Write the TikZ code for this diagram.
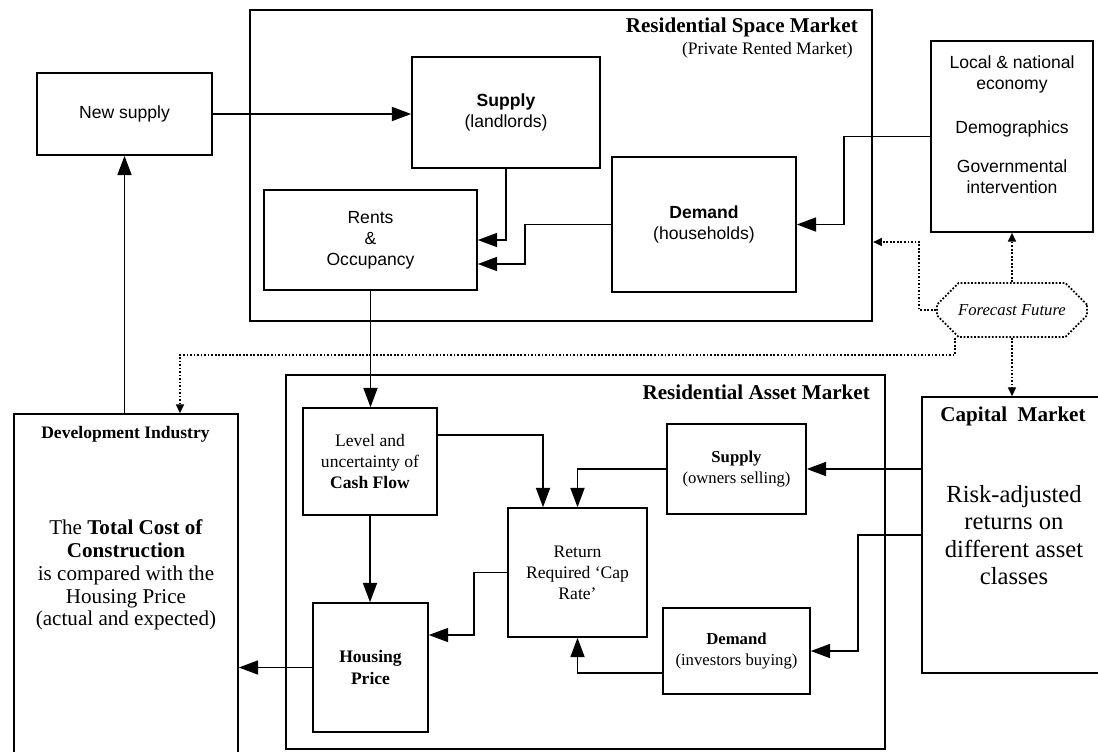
\documentclass[tikz,border=0pt]{standalone}
\usepackage{fontspec}
\setmainfont{Liberation Serif}
\setsansfont{Liberation Sans}
\usetikzlibrary{arrows.meta,shapes.misc,positioning}

\tikzset{
boxsize/.style 2 args={minimum width=#1*0.02cm, minimum height=#2*0.02cm},
box/.style={draw, line width=0.9pt, inner sep=2pt},
sans/.style={font=\sffamily\fontsize{10}{12}\selectfont},
small/.style={font=\rmfamily\fontsize{9.5}{11.5}\selectfont},
market/.style={draw, line width=1.2pt},
title/.style={font=\rmfamily\bfseries\fontsize{12}{14}\selectfont},
chamf/.style={draw, chamfered rectangle, chamfered rectangle xsep=0.34cm,
  chamfered rectangle ysep=0.32cm, densely dotted, line width=1pt, inner sep=0pt,
  font=\rmfamily\itshape\fontsize{9.5}{11}\selectfont},
arr/.style={line width=0.9pt, -{Triangle[length=11pt,width=8pt]}},
fut/.style={densely dotted, line width=1pt, -{Triangle[length=5pt,width=4.5pt]}}
}

\begin{document}
\begin{tikzpicture}[
x=0.02cm, y=-0.02cm,
every node/.style={font=\rmfamily\fontsize{10}{12}\selectfont, align=center}
]
\useasboundingbox (0,0) rectangle (1098,751);

    % Residential space market
    \node[market, boxsize={622}{311}] (spacemkt) at (561,165.5) {};
    \node[title, anchor=east] (spacettl) at (864,27) {Residential Space Market};
    \node[anchor=east] (spacesub) at (859,50) {(Private Rented Market)};

    \node[box, sans, boxsize={175}{82}] (newsup) at (124.5,114) {New supply};
    \node[box, sans, boxsize={188}{111}] (supL) at (506,112.5) {\textbf{Supply}\\(landlords)};
    \node[box, sans, boxsize={213}{100}] (rents) at (370.5,240) {Rents\\\&\\Occupancy};
    \node[box, sans, boxsize={184}{135}] (demH) at (704,224.5) {\textbf{Demand}\\(households)};

    % Outside influences
    \node[box, boxsize={162}{191}] (local) at (1012,136.5) {};
    \node[sans] (localtxt) at (1012,125) {Local \& national\\economy\\[13pt]Demographics\\[10pt]Governmental\\intervention};
    \node[chamf, boxsize={150}{54}] (forecast) at (1012,310) {Forecast Future};

    % Residential asset market
    \node[market, boxsize={599}{374}] (assetmkt) at (585.5,562) {};
    \node[title, anchor=east] (assetttl) at (876,392) {Residential Asset Market};
    \node[box, boxsize={134}{107}] (cash) at (370,461.5) {Level and\\uncertainty of\\\textbf{Cash Flow}};
    \node[box, boxsize={115}{129}] (housing) at (370.5,667.5) {\textbf{Housing}\\\textbf{Price}};
    \node[box, boxsize={139}{129}] (ret) at (577.5,572.5) {Return\\Required `Cap\\Rate'};
    \node[box, small, boxsize={139}{90}] (supO) at (736.5,469) {\textbf{Supply}\\(owners selling)};
    \node[box, small, boxsize={147}{86}] (demI) at (736.5,651) {\textbf{Demand}\\(investors buying)};

    % Capital market
    \node[box, boxsize={184}{276}, font=\rmfamily\fontsize{14}{15.5}\selectfont] (capital) at (1014,535)
    {Risk-adjusted\\returns on\\different asset\\classes};
    \node[title] (capttl) at (1013,416) {Capital\ \ Market};

    % Development industry
    \node[box, boxsize={224}{346}] (dev) at (126,587) {};
    \node[font=\rmfamily\bfseries\fontsize{10}{12}\selectfont] (devttl) at (125.5,434) {Development Industry};
    \node[font=\rmfamily\fontsize{12}{13}\selectfont] (devtxt) at (126,575)
    {The \textbf{Total Cost of}\\\textbf{Construction}\\is compared with the\\Housing Price\\(actual and expected)};

    % Space market flows
    \draw[arr] (newsup.east) -- (newsup.east -| supL.west);
    \draw[arr] (supL.south) |- (rents.east);
    \draw[arr] (demH.west) -- ++(-86,0) |- ([yshift=-0.48cm]rents.east);
    \draw[arr] (local.west) -- ++(-86,0) |- (demH.east);
    \draw[arr] (rents.south) -- (rents.south |- cash.north);

    % Forecasts
    \draw[fut] (forecast.west) -- ++(-17,0) |- ([yshift=-1.53cm]spacemkt.east);
    \draw[fut] (forecast.north) -- (forecast.north |- local.south);
    \draw[fut] ([xshift=-1.14cm]forecast.south) -- ++(0,17) -| ([xshift=1.08cm]dev.north);
    \draw[fut] (forecast.south) -- (forecast.south |- capital.north);

    % Asset market flows
    \draw[arr] ([yshift=0.53cm]cash.east) -| ([xshift=-0.69cm]ret.north);
    \draw[arr] (supO.west) -| (ret.north);
    \draw[arr] (capital.west |- supO.east) -- (supO.east);
    \draw[arr] (capital.west) -- ++(-63,0) |- (demI.east);
    \draw[arr] ([yshift=-0.44cm]demI.west) -| (ret.south);
    \draw[arr] (ret.west) -- ++(-33,0) |- ([yshift=0.65cm]housing.east);
    \draw[arr] (cash.south) -- (cash.south |- housing.north);

    % Development
    \draw[arr] (housing.west) -- (housing.west -| dev.east);
    \draw[arr] (dev.north -| newsup.south) -- (newsup.south);

\end{tikzpicture}
\end{document}
